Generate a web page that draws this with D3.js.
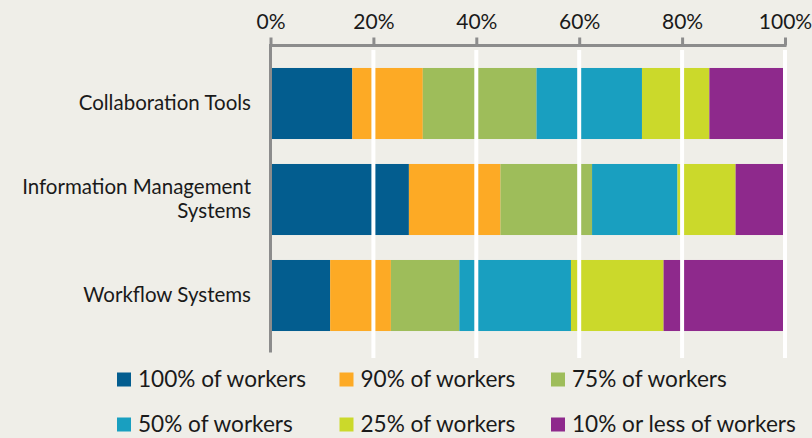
<!DOCTYPE html>
<html><head><meta charset="utf-8">
<script src="https://cdn.jsdelivr.net/npm/d3@7"></script>
<style>
html,body{margin:0;padding:0;background:#efeee8;}
svg{display:block;font-family:Lato,"Open Sans",sans-serif;}
</style></head>
<body><svg id="c" width="812" height="438"></svg>
<script>
const categories = ["Collaboration Tools", "Information Management Systems", "Workflow Systems"];
const categoryLines = [["Collaboration Tools"], ["Information Management", "Systems"], ["Workflow Systems"]];
const seriesNames = ["100% of workers", "90% of workers", "75% of workers", "50% of workers", "25% of workers", "10% or less of workers"];
const seriesColors = ["#035d8f", "#fdaa25", "#9ebd5a", "#199fc0", "#cbd92b", "#8e298c"];
const collaborationTools = [15.9, 13.7, 22.1, 20.5, 13.1, 14.7];
const informationManagement = [26.9, 17.8, 17.8, 16.6, 11.3, 9.6];
const workflowSystems = [11.6, 11.8, 13.3, 21.7, 18.0, 23.6];
const tickValues = [0, 20, 40, 60, 80, 100];

const rows = [collaborationTools, informationManagement, workflowSystems].map((vals, i) => {
  const o = {category: categories[i]};
  seriesNames.forEach((s, j) => o[s] = vals[j]);
  return o;
});

const svg = d3.select("#c");
const x = d3.scaleLinear().domain([0, 100]).range([270.5, 785]);
const y = d3.scaleBand().domain(categories).range([55.5, 343.5]).paddingInner(0.26).paddingOuter(0.13);
const color = d3.scaleOrdinal().domain(seriesNames).range(seriesColors);

const stacked = d3.stack().keys(seriesNames)(rows);

// bars
svg.append("g").selectAll("g").data(stacked).join("g")
  .attr("fill", d => color(d.key))
  .selectAll("rect").data(d => d).join("rect")
  .attr("x", d => x(d[0]))
  .attr("width", d => x(d[1]) - x(d[0]))
  .attr("y", d => y(d.data.category))
  .attr("height", y.bandwidth());

// white gridlines over bars
svg.append("g").selectAll("line").data(tickValues.filter(t => t > 0)).join("line")
  .attr("x1", d => x(d)).attr("x2", d => x(d))
  .attr("y1", 50).attr("y2", 358)
  .attr("stroke", "#ffffff").attr("stroke-width", 4);

// left axis line
svg.append("line").attr("x1", x(0)).attr("x2", x(0)).attr("y1", 44.5).attr("y2", 352.5)
  .attr("stroke", "#8c8c8c").attr("stroke-width", 3);

// top axis
const ax = svg.append("g").attr("transform", "translate(0,45.5)")
  .call(d3.axisTop(x).tickValues(tickValues).tickFormat(d => d + "%").tickSize(8).tickSizeOuter(0).tickPadding(9));
ax.select(".domain").attr("stroke", "#8c8c8c").attr("stroke-width", 3).attr("d", `M${x(0)-1.5},0H${x(100)+1.5}`);
ax.selectAll(".tick line").attr("stroke", "#8c8c8c").attr("stroke-width", 3);
ax.selectAll(".tick text").attr("fill", "#1a1a1a").style("font-size", "21px").style("font-family", "Lato,'Open Sans',sans-serif");

// category labels
const lab = svg.append("g").selectAll("text").data(categories).join("text")
  .attr("text-anchor", "end").attr("fill", "#1a1a1a").style("font-size", "20.5px");
lab.each(function(c, i) {
  const lines = categoryLines[i];
  const cy = y(c) + y.bandwidth() / 2;
  d3.select(this).selectAll("tspan").data(lines).join("tspan")
    .attr("x", 251)
    .attr("y", (l, k) => cy + 6.5 + (k - (lines.length - 1) / 2) * 24.6)
    .text(l => l);
});

// legend
const legX = [117, 339.5, 551];
const legY = [386.5, 431.5];
const leg = svg.append("g").selectAll("g").data(seriesNames).join("g")
  .attr("transform", (d, i) => `translate(${legX[i % 3]},${legY[Math.floor(i / 3)]})`);
leg.append("rect").attr("x", 0).attr("y", -14).attr("width", 14).attr("height", 14).attr("fill", d => color(d));
leg.append("text").attr("x", 21).attr("y", 0).attr("fill", "#1a1a1a").style("font-size", "22.6px").text(d => d);
</script></body></html>
